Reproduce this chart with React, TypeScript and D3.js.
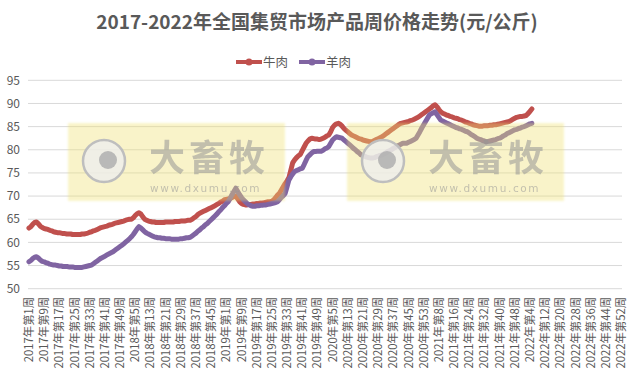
import React from "react";
import * as d3 from "d3";

const TITLE = "2017-2022年全国集贸市场产品周价格走势(元/公斤)";
const SERIES_NAMES = ["牛肉", "羊肉"];
const YEARS = [2017, 2018, 2019, 2020, 2021, 2022];
const WEEKS_PER_YEAR = [52, 52, 52, 53, 52, 52];
const Y_TICKS = [50, 55, 60, 65, 70, 75, 80, 85, 90, 95];

// 牛肉 weekly price, from 2017 week 1
const beef2017 = [63.1,63.4,63.9,64.3,64.4,64.0,63.5,63.2,63.0,62.9,62.8,62.6,62.5,62.3,62.2,62.1,62.1,62.0,61.9,61.9,61.8,61.8,61.8,61.7,61.7,61.7,61.7,61.7,61.8,61.8,61.9,62.0,62.2,62.3,62.5,62.6,62.8,63.0,63.2,63.3,63.4,63.5,63.7,63.8,63.9,64.1,64.2,64.3,64.4,64.5,64.6,64.8];
const beef2018 = [64.9,65.0,65.0,65.3,65.8,66.2,66.4,66.1,65.5,65.0,64.8,64.6,64.5,64.4,64.4,64.3,64.3,64.3,64.3,64.3,64.4,64.4,64.4,64.4,64.4,64.5,64.5,64.5,64.6,64.6,64.6,64.7,64.8,64.8,65.0,65.3,65.6,66.0,66.3,66.5,66.7,66.9,67.1,67.3,67.5,67.7,67.9,68.2,68.4,68.7,68.9,69.2];
const beef2019 = [69.3,69.4,69.5,69.7,69.9,70.0,69.4,68.8,68.4,68.2,68.1,68.1,68.2,68.2,68.3,68.3,68.4,68.4,68.5,68.5,68.6,68.7,68.8,68.8,68.9,69.2,69.7,70.2,70.6,71.3,72.0,72.7,73.3,74.0,75.6,77.2,77.8,78.3,78.7,79.0,79.8,80.6,81.4,81.9,82.3,82.5,82.4,82.3,82.3,82.2,82.3,82.5];
const beef2020 = [82.7,83.0,83.2,83.9,84.8,85.3,85.6,85.7,85.5,85.1,84.6,84.2,83.9,83.5,83.2,83.0,82.8,82.6,82.4,82.3,82.1,82.0,81.9,81.8,81.7,81.8,82.0,82.2,82.4,82.6,82.8,83.1,83.4,83.7,84.0,84.3,84.6,84.9,85.2,85.5,85.7,85.8,85.9,86.0,86.1,86.3,86.4,86.6,86.8,87.0,87.3,87.6,87.9];
const beef2021 = [88.2,88.5,88.8,89.1,89.5,89.7,89.3,88.7,88.2,87.9,87.7,87.5,87.4,87.2,87.1,86.9,86.8,86.7,86.5,86.4,86.2,86.0,85.9,85.7,85.6,85.4,85.3,85.2,85.1,85.1,85.1,85.2,85.2,85.2,85.3,85.3,85.4,85.4,85.5,85.6,85.7,85.8,85.9,86.0,86.1,86.3,86.6,86.8,87.0,87.1,87.2,87.2];
const beef2022 = [87.3,87.4,87.8,88.3,88.8];

// 羊肉 weekly price, from 2017 week 1
const mutton2017 = [55.8,56.1,56.5,56.8,56.9,56.6,56.2,55.9,55.8,55.6,55.5,55.3,55.2,55.1,55.1,55.0,54.9,54.9,54.8,54.8,54.8,54.7,54.7,54.7,54.6,54.6,54.6,54.6,54.6,54.7,54.8,54.9,55.0,55.1,55.4,55.7,56.0,56.3,56.6,56.8,57.0,57.3,57.5,57.7,57.9,58.2,58.5,58.8,59.1,59.4,59.7,60.1];
const mutton2018 = [60.4,60.8,61.2,61.7,62.3,62.9,63.4,63.1,62.7,62.3,62.0,61.8,61.6,61.4,61.2,61.1,61.0,61.0,60.9,60.9,60.8,60.8,60.8,60.7,60.7,60.7,60.7,60.7,60.8,60.8,60.9,61.0,61.0,61.1,61.4,61.7,62.0,62.4,62.7,63.1,63.4,63.8,64.1,64.5,64.9,65.3,65.7,66.1,66.6,67.0,67.5,67.9];
const mutton2019 = [68.4,68.8,69.5,70.3,71.0,71.7,71.0,70.3,69.7,69.2,68.8,68.4,68.1,67.9,67.8,67.8,67.9,67.9,68.0,68.0,68.1,68.1,68.2,68.3,68.4,68.5,68.6,68.8,69.2,69.7,70.1,70.6,72.0,73.5,74.2,74.8,75.3,75.5,75.7,75.9,76.0,76.8,77.7,78.5,78.9,79.3,79.6,79.6,79.7,79.7,79.7,79.9];
const mutton2020 = [80.2,80.4,80.7,81.4,82.1,82.5,82.8,82.7,82.6,82.5,82.1,81.8,81.4,81.1,80.7,80.3,80.0,79.6,79.3,78.9,78.7,78.6,78.4,78.3,78.2,78.2,78.3,78.5,78.6,78.8,78.9,79.1,79.3,79.6,79.8,80.0,80.3,80.5,80.8,81.0,81.2,81.4,81.4,81.4,81.6,81.8,82.0,82.2,82.5,83.2,83.9,84.7,85.4];
const mutton2021 = [86.1,86.8,87.5,87.8,88.0,88.2,87.6,87.0,86.4,86.2,86.0,85.8,85.6,85.4,85.2,85.0,84.8,84.7,84.5,84.4,84.2,84.0,83.9,83.6,83.3,83.1,82.8,82.5,82.3,82.2,82.0,81.9,81.7,81.8,81.9,82.0,82.1,82.2,82.4,82.5,82.7,83.0,83.2,83.5,83.7,83.9,84.1,84.3,84.4,84.6,84.7,84.9];
const mutton2022 = [85.0,85.2,85.4,85.6,85.7];

const beef = [...beef2017, ...beef2018, ...beef2019, ...beef2020, ...beef2021, ...beef2022];
const mutton = [...mutton2017, ...mutton2018, ...mutton2019, ...mutton2020, ...mutton2021, ...mutton2022];

const categories: string[] = [];
YEARS.forEach((y, k) => {
  for (let w = 1; w <= WEEKS_PER_YEAR[k]; w++) categories.push(`${y}年第${w}周`);
});

const COLORS = ["#C0504D", "#8064A2"];
const TEXT = "#595959";
const FONT = "'Noto Sans CJK SC', 'Noto Sans', sans-serif";

export default function App() {
  const W = 635, H = 376;
  const left = 28, right = 622, top = 80.3, bottom = 288.7;
  const x = d3.scaleBand<number>().domain(categories.map((_, i) => i)).range([left, right]).paddingInner(0).paddingOuter(0);
  const y = d3.scaleLinear().domain([50, 95]).range([bottom, top]);
  const cx = (i: number) => (x(i) as number) + x.bandwidth() / 2;
  const line = d3.line<number>().x((_, i) => cx(i)).y((d) => y(d));
  const labelIdx = categories.map((_, i) => i).filter((i) => i % 8 === 0);
  const series = [beef, mutton];

  const Watermark = ({ dx }: { dx: number }) => (
    <g transform={`translate(${dx},0)`}>
      <rect x={68} y={123} width={217} height={78} fill="rgb(240,226,115)" opacity={0.38} filter="url(#blur)" />
      <circle cx={104} cy={161} r={21} fill="rgb(238,238,238)" fillOpacity={0.8} stroke="rgb(190,190,190)" strokeWidth={2.5} />
      <circle cx={108} cy={160} r={9} fill="rgb(175,175,175)" opacity={0.85} />
      <text x={149} y={171} fontFamily={FONT} fontWeight={700} fontSize={36} fill="rgb(150,150,150)" opacity={0.55} letterSpacing={4}>大畜牧</text>
      <text x={150} y={192} fontFamily="'DejaVu Sans', sans-serif" fontSize={10.5} fill="rgb(150,150,150)" opacity={0.55} letterSpacing={1.6}>www.dxumu.com</text>
    </g>
  );

  return (
    <svg width={W} height={H} style={{ position: "absolute", left: 0, top: 0, background: "#fff" }} fontFamily={FONT}>
      <defs>
        <filter id="blur" x="-5%" y="-5%" width="110%" height="110%">
          <feGaussianBlur stdDeviation={1.2} />
        </filter>
      </defs>
      <rect width={W} height={H} fill="#fff" />
      <text x={317} y={29} textAnchor="middle" fontSize={19} fontWeight={700} fill={TEXT}>{TITLE}</text>
      {SERIES_NAMES.map((n, k) => {
        const lx = 236 + k * 63;
        return (
          <g key={n}>
            <line x1={lx} x2={lx + 26} y1={62} y2={62} stroke={COLORS[k]} strokeWidth={4} />
            <circle cx={lx + 13} cy={62} r={3.5} fill={COLORS[k]} />
            <text x={lx + 27} y={66.5} fontSize={12.5} fill={TEXT}>{n}</text>
          </g>
        );
      })}
      {Y_TICKS.map((t) => (
        <g key={t}>
          <line x1={left} x2={right} y1={y(t)} y2={y(t)} stroke="#D9D9D9" strokeWidth={1} />
          <text x={20} y={y(t)} dy="0.35em" textAnchor="end" fontSize={12} fill={TEXT}>{t}</text>
        </g>
      ))}
      {labelIdx.map((i) => (
        <text key={i} transform={`translate(${cx(i)},297) rotate(-90)`} dy="0.36em" textAnchor="end" fontSize={11.3} fill={TEXT}>{categories[i]}</text>
      ))}
      {series.map((s, k) => (
        <path key={k} d={line(s) || ""} fill="none" stroke={COLORS[k]} strokeWidth={5} strokeLinejoin="round" strokeLinecap="round" />
      ))}
      <Watermark dx={0} />
      <Watermark dx={279} />
    </svg>
  );
}
